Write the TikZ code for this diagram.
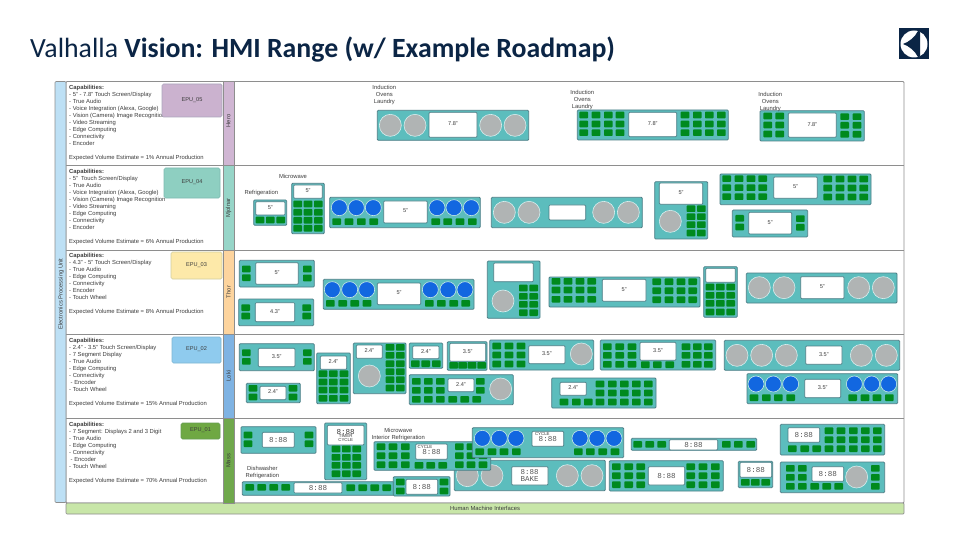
\documentclass[tikz,border=0pt]{standalone}
\usepackage{fontspec}
\setmainfont{Liberation Sans}
\newfontfamily\ttl{Carlito}
\newfontfamily\segf{Liberation Mono}
\definecolor{navy}{HTML}{0B2545}
\definecolor{txt}{HTML}{3C3C3C}
\definecolor{segtxt}{HTML}{5A5A5A}
\definecolor{grid}{HTML}{8E8E8E}
\definecolor{teal1}{HTML}{5CBDBD}
\definecolor{teal2}{HTML}{4C7D85}
\definecolor{keyg}{HTML}{008A1E}
\definecolor{knobg}{HTML}{B0B4B4}
\definecolor{knobb}{HTML}{1267E0}
\definecolor{stripblue}{HTML}{BDE0F5}
\definecolor{barg}{HTML}{C8E6A8}
\newcounter{nd}
\tikzset{
  zz/.style n args={2}{shift={(#1pt,-#2pt)},x=0.33333pt,y=-0.33333pt},
  panelbox/.style={fill=teal1,draw=teal2,line width=.8pt,rounded corners=1pt},
  screenbox/.style={fill=white,draw=teal2,line width=.7pt,rounded corners=1pt},
  keybox/.style={fill=keyg,rounded corners=.8pt},
  knobgray/.style={fill=knobg,draw=white!75!teal1,line width=.6pt},
  knobblue/.style={fill=knobb,draw=white!65!teal1,line width=.6pt},
  slabel/.style={font=\fontsize{5.6}{6}\selectfont,text=txt,inner sep=0pt},
  seglabel/.style={font=\segf\fontsize{7.6}{8}\selectfont,text=segtxt,inner sep=0pt},
  caption/.style={font=\fontsize{5.85}{7}\selectfont,text=txt,inner sep=0pt,align=center},
  captext/.style={font=\fontsize{5.85}{7}\selectfont,text=txt,inner sep=0pt,align=left,anchor=north west},
  epubox/.style={draw=#1!75!teal2,fill=#1,line width=.7pt,rounded corners=1.5pt},
  rowstrip/.style={fill=#1,draw=grid,line width=.7pt},
  rowlabel/.style={rotate=90,font=\fontsize{5.85}{6}\selectfont,text=txt,inner sep=0pt},
}
\newcommand{\Pnl}[4]{\draw[panelbox] (#1,#2) rectangle (#3,#4);}
\newcommand{\Scrn}[5]{\draw[screenbox] (#1,#2) rectangle (#3,#4);
  \stepcounter{nd}\node[slabel] (n\arabic{nd}) at ({(#1+#3)/2},{(#2+#4)/2-3}) {#5};}
\newcommand{\Seg}[4]{\draw[screenbox] (#1,#2) rectangle (#3,#4);
  \stepcounter{nd}\node[seglabel] (n\arabic{nd}) at ({(#1+#3)/2},{(#2+#4)/2}) {8:88};}
\newcommand{\Kys}[2]{\foreach \kx in {#1} \foreach \ky in {#2} \fill[keybox] (\kx-13,\ky-10) rectangle (\kx+13,\ky+10);}
\newcommand{\Knb}[2]{\foreach \kx in {#1} \draw[knobgray] (\kx,#2) circle (33);}
\newcommand{\Blu}[2]{\foreach \kx in {#1} \draw[knobblue] (\kx,#2) circle (24);}
\newcommand{\Cap}[3]{\stepcounter{nd}\node[caption] (n\arabic{nd}) at (#1,#2) {#3};}
\begin{document}
\begin{tikzpicture}[x=1pt,y=-1pt]
\useasboundingbox (0,0) rectangle (960,540);
\fill[white] (0,0) rectangle (960,540);
% title
\node[anchor=base west,inner sep=0pt,text=navy,font=\ttl\fontsize{27.8}{30}\selectfont] (title) at (30,58) {Valhalla \textbf{Vision: HMI Range (w/ Example Roadmap)}};
% logo
\fill[navy] (899,28) rectangle (929,59);
\fill[white] (914,44) circle (13.5);
\fill[navy] (903,44) .. controls (909,42) and (915,37) .. (918,31) -- (920,31.5) -- (920,56.5) -- (918,57) .. controls (915,51) and (909,46) .. (903,44) -- cycle;
% frame
\draw[grid,line width=.8pt,rounded corners=1pt] (66,81.5) rectangle (904,503);
\foreach \yy in {165.5,250,334.5,418.5} \draw[grid,line width=.8pt] (66,\yy) -- (904,\yy);
% left strip and bottom bar
\draw[fill=stripblue,draw=grid,line width=.7pt,rounded corners=1pt] (55,81.5) rectangle (66,502.5);
\node[rowlabel] (epu) at (61,294) {Electronics Processing Unit};
\draw[fill=barg,draw=grid,line width=.7pt,rounded corners=1pt] (66,503) rectangle (904,514);
\node[font=\fontsize{5.85}{6}\selectfont,text=txt,inner sep=0pt] (hmi) at (485,508.5) {Human Machine Interfaces};
% capability texts
\node[captext] (t5) at (69,84.8) {\textbf{Capabilities:}\\- 5" - 7.8" Touch Screen/Display\\- True Audio\\- Voice Integration (Alexa, Google)\\- Vision (Camera) Image Recognition\\- Video Streaming\\- Edge Computing\\- Connectivity\\- Encoder\\[7pt]Expected Volume Estimate = 1\% Annual Production};
\node[captext] (t4) at (69,168.8) {\textbf{Capabilities:}\\- 5"\ \ Touch Screen/Display\\- True Audio\\- Voice Integration (Alexa, Google)\\- Vision (Camera) Image Recognition\\- Video Streaming\\- Edge Computing\\- Connectivity\\- Encoder\\[7pt]Expected Volume Estimate = 6\% Annual Production};
\node[captext] (t3) at (69,253.5) {\textbf{Capabilities:}\\- 4.3" - 5" Touch Screen/Display\\- True Audio\\- Edge Computing\\- Connectivity\\- Encoder\\- Touch Wheel\\[7pt]Expected Volume Estimate = 8\% Annual Production};
\node[captext] (t2) at (69,337.8) {\textbf{Capabilities:}\\- 2.4" - 3.5" Touch Screen/Display\\- 7 Segment Display\\- True Audio\\- Edge Computing\\- Connectivity\\\hspace*{1.5pt}- Encoder\\- Touch Wheel\\[7pt]Expected Volume Estimate = 15\% Annual Production};
\node[captext] (t1) at (69,422.2) {\textbf{Capabilities:}\\- 7 Segment: Displays 2 and 3 Digit\\- True Audio\\- Edge Computing\\- Connectivity\\\hspace*{1.5pt}- Encoder\\- Touch Wheel\\[7pt]Expected Volume Estimate = 70\% Annual Production};
% EPU boxes
\definecolor{ce5}{HTML}{CBB2CF}\definecolor{ce4}{HTML}{8ECFC1}\definecolor{ce3}{HTML}{FDE9A9}\definecolor{ce2}{HTML}{8FCBEE}\definecolor{ce1}{HTML}{6FA843}
\draw[epubox=ce5] (162,84) rectangle (222,117); \node[slabel] (e5) at (192,100) {EPU\_05};
\draw[epubox=ce4] (164,168) rectangle (220,198); \node[slabel] (e4) at (192,182) {EPU\_04};
\draw[epubox=ce3] (171,252) rectangle (222,279); \node[slabel] (e3) at (196.5,265) {EPU\_03};
\draw[epubox=ce2] (172,337) rectangle (221,363); \node[slabel] (e2) at (196.5,349.5) {EPU\_02};
\draw[epubox=ce1] (181,423) rectangle (220,439); \node[slabel] (e1) at (200.5,430) {EPU\_01};
% row strips
\definecolor{cr5}{HTML}{D0B6D3}\definecolor{cr4}{HTML}{97D5C8}\definecolor{cr3}{HTML}{FDD49E}\definecolor{cr2}{HTML}{7FB3E3}\definecolor{cr1}{HTML}{6FA84C}
\draw[rowstrip=cr5] (223,81.5) rectangle (234,165.5); \node[rowlabel] (r5) at (228.5,121) {Hero};
\draw[rowstrip=cr4] (223,165.5) rectangle (234,250); \node[rowlabel] (r4) at (228.5,208) {Mjolnar};
\draw[rowstrip=cr3] (223,250) rectangle (234,334.5); \node[rowlabel] (r3) at (228.5,292) {Thor};
\draw[rowstrip=cr2] (223,334.5) rectangle (234,418.5); \node[rowlabel] (r2) at (228.5,376) {Loki};
\draw[rowstrip=cr1] (223,418.5) rectangle (234,503); \node[rowlabel] (r1) at (228.5,461) {Mass};
% --- Hero / Mjolnar left
\begin{scope}[zz={230}{80}]
\Cap{463}{46}{Induction\\Ovens\\Laundry}
\Pnl{442}{91}{896}{181}\Knb{481,555,782,855}{136}\Scrn{597}{97}{741}{172}{7.8"}
\Cap{94}{339}{Refrigeration}\Cap{189}{289}{Microwave}
\Pnl{71}{360}{170}{436}\Scrn{77}{365}{165}{405}{5"}\Kys{90,121,152}{420}
\Pnl{185}{310}{283}{461}\Scrn{191}{315}{277}{355}{5"}\Kys{203,234,265}{372,397,421,445}
\Pnl{299}{352}{751}{443}\Blu{328,379,430,621,672,724}{383}\Scrn{461}{363}{592}{429}{5"}\Kys{320,357,394,431,617,653,690,727}{425}
\Pnl{784}{352}{1237}{443}\Knb{823,897,1121,1195}{397}\Scrn{957}{375}{1067}{420}{}
\end{scope}
\begin{scope}[zz={560}{80}]
\Cap{67}{59}{Induction\\Ovens\\Laundry}
\Pnl{52}{90}{505}{180}\Kys{71,108,145,180}{105,132,158}\Kys{375,412,448,484}{105,132,158}\Scrn{206}{97}{350}{170}{7.8"}
\Pnl{600}{92}{913}{183}\Kys{623,659}{108,135,162}\Kys{854,891}{110,136,163}\Scrn{685}{99}{829}{172}{7.8"}
\Cap{631}{66}{Induction\\Ovens\\Laundry}
\Pnl{284}{305}{443}{477}\Scrn{298}{309}{428}{373}{5"}\Knb{331}{424}\Kys{393,424}{386,410,434,459}
\Pnl{480}{282}{933}{374}\Kys{500,537,573,608}{296,323,350}\Kys{803,840,876,911}{297,324,351}\Scrn{641}{291}{772}{355}{5"}
\Pnl{517}{390}{743}{471}\Kys{539}{415,441}\Kys{721}{416,442}\Scrn{566}{397}{695}{462}{5"}
\end{scope}
% --- Thor and Loki
\begin{scope}[zz={230}{250}]
\Pnl{28}{31}{253}{111}\Kys{49}{57,83}\Kys{232}{57,84}\Scrn{77}{38}{205}{103}{5"}
\Pnl{26}{147}{251}{227}\Kys{47,230}{173,198}\Scrn{76}{158}{194}{215}{4.3"}
\Pnl{280}{88}{732}{178}\Blu{307,359,410,601,654,705}{119}\Kys{301,338,374,411,598,634,671,707}{160}\Scrn{442}{99}{572}{164}{5"}
\Pnl{772}{33}{930}{205}\Scrn{791}{39}{910}{95}{}\Knb{819}{153}\Kys{880,911}{114,139,163,188}
\Pnl{28}{281}{253}{362}\Kys{49,232}{308,334}\Scrn{85}{295}{195}{350}{3.5"}
\Pnl{49}{400}{211}{458}\Kys{69,189}{415,441}\Scrn{90}{409}{168}{449}{2.4"}
\Pnl{260}{309}{361}{461}\Scrn{271}{318}{350}{358}{2.4"}\Kys{279,310,342}{371,396,420,445}
\Pnl{370}{279}{528}{431}\Scrn{379}{285}{457}{325}{2.4"}\Knb{418}{378}\Kys{480,511}{292,316,341,365,389,414}
\Pnl{538}{279}{638}{355}\Scrn{548}{288}{627}{326}{2.4"}\Kys{556,587,619}{341}
\Pnl{652}{275}{771}{361}\Scrn{659}{280}{767}{334}{3.5"}\Kys{671,698,726,755}{346}
\Pnl{538}{374}{850}{464}\Kys{559,595,631,751}{394,421}\Kys{559,595,631,668,704,740}{448}\Scrn{654}{386}{732}{425}{2.4"}\Knb{812}{417}
\end{scope}
\begin{scope}[zz={480}{250}]
\Pnl{207}{81}{660}{171}\Kys{228,264,300,335}{94,120,148}\Kys{530,567,603,638}{95,122,149}\Scrn{367}{88}{498}{154}{5"}
\Pnl{671}{50}{772}{202}\Scrn{677}{55}{766}{97}{}\Kys{690,721,752}{111,136,160,186}
\Pnl{799}{69}{1251}{159}\Knb{838,912,1136,1210}{113}\Scrn{962}{80}{1092}{146}{5"}
\Pnl{29}{270}{341}{360}\Kys{50,87,123}{288,315,342}\Scrn{146}{287}{255}{341}{3.5"}\Knb{304}{312}
\Pnl{361}{270}{707}{360}\Kys{382,419,456}{290,316,343}\Kys{496,532,569}{344}\Scrn{480}{277}{588}{331}{3.5"}\Kys{618,652,685}{290,316,343}
\Pnl{733}{271}{1259}{361}\Knb{771,845,919,1144,1219}{316}\Scrn{977}{288}{1086}{343}{3.5"}
\Pnl{215}{384}{528}{474}\Scrn{240}{397}{319}{436}{2.4"}\Kys{360,397,433,469,505}{402,429}\Kys{252,289,325,360,397,433,469,505}{456}
\Pnl{801}{371}{1253}{461}\Blu{828,880,932,1123,1175,1226}{402}\Kys{822,859,895,932,1118,1155,1191,1228}{443}\Scrn{974}{388}{1082}{443}{3.5"}
\end{scope}
% --- Mass: back to front
\begin{scope}[zz={450}{415}]
\Pnl{13}{136}{466}{227}\Knb{52,126,352,426}{182}\draw[screenbox] (185,155) rectangle (294,210);
\stepcounter{nd}\node[seglabel,align=center,font=\segf\fontsize{7.5}{6.5}\selectfont] (n\arabic{nd}) at (239,182) {8:88\\BAKE};
\end{scope}
\begin{scope}[zz={230}{415}]
\Pnl{33}{35}{258}{115}\Kys{54,237}{60,86}\Seg{97}{52}{193}{97}
\Pnl{284}{24}{410}{194}\draw[screenbox] (292,31) rectangle (402,90);\Cap{347}{50}{\segf\fontsize{7.6}{8}\selectfont 8:88}\Cap{347}{64}{\fontsize{4.4}{4.6}\selectfont TIMER}\Cap{347}{75}{\fontsize{4.4}{4.6}\selectfont CYCLE}\Kys{318,349,380}{102,127,151,176}
\Pnl{432}{80}{782}{166}\Kys{453,489,526}{95,122,149}\Kys{567,602,638}{151}\Kys{688,723,759}{95,122,149}\Seg{557}{87}{652}{133}\Cap{585}{97}{\fontsize{4.4}{4.6}\selectfont CYCLE}
\Pnl{37}{200}{492}{241}\Kys{59,95,131,167}{217}\Kys{362,398,434,470}{218}\Seg{192}{203}{336}{234}
\Pnl{490}{185}{660}{243}\Kys{511,642}{201,228}\Seg{528}{193}{623}{238}
\Cap{97}{173}{Dishwasher\\Refrigeration}\Cap{505}{58}{Microwave\\Interior Refrigeration}
\end{scope}
\begin{scope}[zz={450}{415}]
\Pnl{67}{38}{521}{128}\Blu{97,148,198,390,441,492}{70}\Kys{89,126,162,199,385,421,458,495}{110}\Seg{246}{49}{341}{94}\Cap{277}{58}{\fontsize{4.4}{4.6}\selectfont CYCLE}
\Pnl{544}{70}{920}{106}\Kys{563,599,635,829,865,902}{88}\Seg{658}{74}{803}{105}
\Pnl{991}{28}{1304}{120}\Seg{1014}{38}{1109}{82}\Kys{1137,1173,1210,1246,1282}{47,74}\Kys{1027,1064,1100,1137,1173,1210,1246,1282}{101}
\Pnl{478}{137}{820}{228}\Kys{499,536,572,722,759,796}{155,182,209}\Seg{595}{155}{704}{210}
\Pnl{865}{139}{968}{218}\Seg{870}{142}{965}{187}\Kys{886,916,947}{202}
\Pnl{991}{141}{1304}{233}\Kys{1021,1057}{160,187}\Kys{1021,1057,1094,1130,1166}{214}\Seg{1086}{155}{1181}{199}\Knb{1220}{186}\Kys{1276}{160,187,214}
\end{scope}
\end{tikzpicture}
\end{document}
